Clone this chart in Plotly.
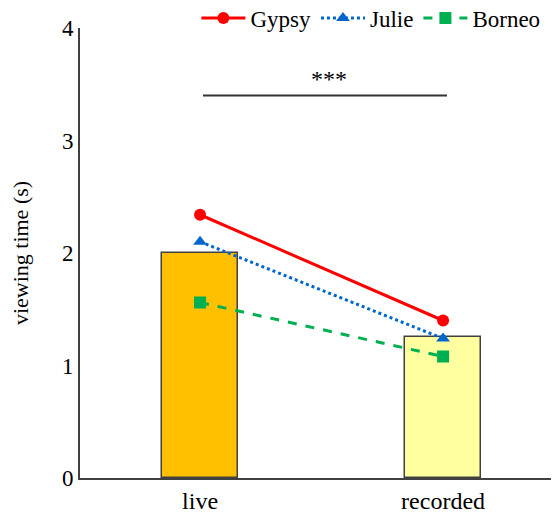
import plotly.graph_objects as go

categories = ["live", "recorded"]
mean_values = [2.0, 1.25]
gypsy = [2.34, 1.40]
julie = [2.10, 1.24]
borneo = [1.56, 1.08]
y_ticks = [0, 1, 2, 3, 4]
sig_y = 3.40
sig_label = "***"

xpos = list(range(len(categories)))
font = "Liberation Serif, Times New Roman, serif"

fig = go.Figure()
fig.add_trace(go.Bar(
    x=xpos, y=mean_values, width=0.31,
    marker=dict(color=["#FFC000", "#FFFF9F"], line=dict(color="#404040", width=1.5)),
    showlegend=False, hoverinfo="skip"))
fig.add_trace(go.Scatter(x=xpos, y=gypsy, name="Gypsy", mode="lines+markers",
                         line=dict(color="#FF0000", width=3),
                         marker=dict(symbol="circle", size=12, color="#FF0000")))
fig.add_trace(go.Scatter(x=xpos, y=julie, name="Julie", mode="lines+markers",
                         line=dict(color="#0066CC", width=3, dash="dot"),
                         marker=dict(symbol="triangle-up", size=12, color="#0066CC")))
fig.add_trace(go.Scatter(x=xpos, y=borneo, name="Borneo", mode="lines+markers",
                         line=dict(color="#00B050", width=3, dash="dash"),
                         marker=dict(symbol="square", size=12, color="#00B050")))

fig.add_shape(type="line", x0=0.012, x1=1.016, y0=sig_y, y1=sig_y,
              line=dict(color="#333333", width=2))
fig.add_annotation(x=0.53, y=sig_y, text=sig_label, showarrow=False,
                   yanchor="bottom", yshift=2, font=dict(size=24, color="black", family=font))

# page body has an 8px default margin; size/offset compensate for it
fig.update_layout(
    width=551, height=506,
    margin=dict(l=72, r=0, t=20, b=36, autoexpand=False),
    plot_bgcolor="white", paper_bgcolor="white",
    font=dict(family=font, size=23, color="black"),
    bargap=0,
    legend=dict(orientation="h", x=0.243, xanchor="left", y=1.022, yanchor="middle",
                font=dict(size=23, family=font), tracegroupgap=0,
                itemwidth=44, borderwidth=0,
                bgcolor="rgba(0,0,0,0)"),
    xaxis=dict(range=[-0.494, 1.477], tickvals=xpos, ticktext=categories,
               showline=True, linecolor="#404040", linewidth=2, showgrid=False,
               zeroline=False, ticks="", ticklen=0, tickfont=dict(size=24),
               automargin=False),
    yaxis=dict(range=[0, 4], tickvals=y_ticks, showline=True, linecolor="#404040",
               linewidth=2, showgrid=False, zeroline=False, ticks="",
               title=dict(text="viewing time (s)", font=dict(size=22), standoff=28),
               tickfont=dict(size=23), automargin=False),
)

fig.write_html("out.html")
